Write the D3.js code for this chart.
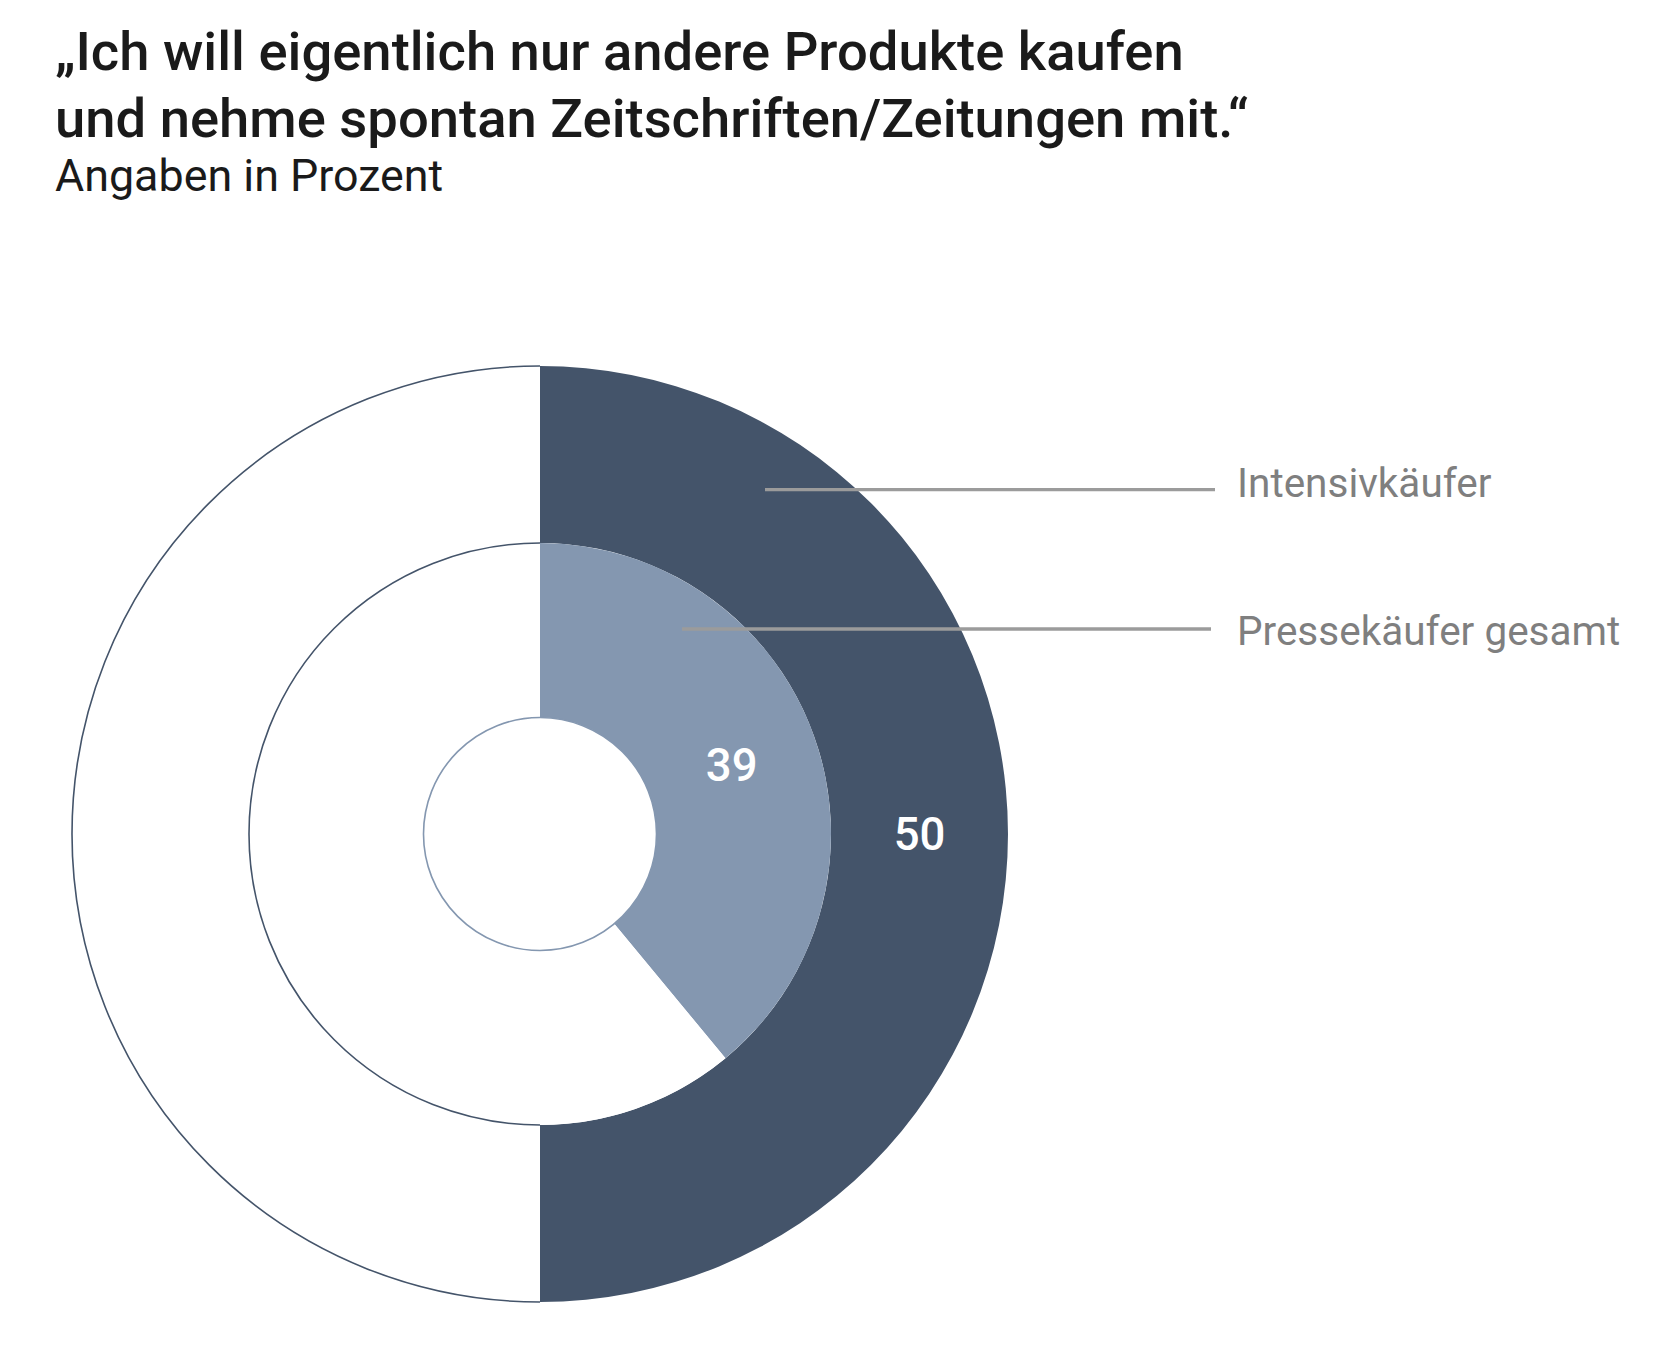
<!DOCTYPE html>
<html>
<head>
<meta charset="utf-8">
<script src="https://cdn.jsdelivr.net/npm/d3@7"></script>
<style>
  html, body { margin: 0; padding: 0; background: #ffffff; }
  svg { display: block; }
</style>
</head>
<body>
<svg id="chart" width="1676" height="1372"></svg>
<script>
// ---- data ----
const titleLines = ["\u201EIch will eigentlich nur andere Produkte kaufen", "und nehme spontan Zeitschriften/Zeitungen mit.\u201C"];
const subtitle = "Angaben in Prozent";
const seriesNames = ["Intensivk\u00e4ufer", "Pressek\u00e4ufer gesamt"];
const intensivValues = [50, 50];   // [Zustimmung, Rest]
const gesamtValues = [39, 61];     // [Zustimmung, Rest]

// ---- layout ----
const W = 1676, H = 1372;
const cx = 540, cy = 834;
const rOuter = 468, rMid = 291, rInner = 116.5;
const darkColor = "#44546a", lightColor = "#8497b0";
const font = "Roboto, 'Noto Sans', sans-serif";

const svg = d3.select("#chart");

// titles
svg.append("g").selectAll("text").data(titleLines).join("text")
  .attr("x", 55).attr("y", (d, i) => 70 + i * 66.7)
  .attr("font-family", font).attr("font-weight", 500).attr("font-size", 54.4)
  .attr("fill", "#1a1a1a").text(d => d);
svg.append("text").attr("x", 55).attr("y", 190.7)
  .attr("font-family", font).attr("font-size", 44.8).attr("fill", "#1a1a1a").text(subtitle);

const pie = d3.pie().sort(null).value(d => d);
const g = svg.append("g").attr("transform", `translate(${cx},${cy})`);

const rings = [
  { name: seriesNames[0], values: intensivValues, inner: rMid, outer: rOuter, color: darkColor },
  { name: seriesNames[1], values: gesamtValues, inner: rInner, outer: rMid, color: lightColor }
];

rings.forEach(ring => {
  const arcs = pie(ring.values);
  const arc = d3.arc().innerRadius(ring.inner).outerRadius(ring.outer);
  g.append("g").selectAll("path").data(arcs).join("path")
    .attr("d", arc)
    .attr("fill", (d, i) => i === 0 ? ring.color : "#ffffff");
  ring.arcs = arcs; ring.arc = arc;
});

// outlines of the unfilled remainder
const rem0 = rings[0].arcs[1];
[rOuter, rMid].forEach(r => {
  g.append("path")
    .attr("d", d3.arc().innerRadius(r).outerRadius(r)({ startAngle: rem0.startAngle, endAngle: rem0.endAngle }))
    .attr("fill", "none").attr("stroke", darkColor).attr("stroke-width", 1.6);
});
g.append("circle").attr("r", rInner).attr("fill", "#ffffff")
  .attr("stroke", lightColor).attr("stroke-width", 1.6);

// value labels
rings.forEach(ring => {
  const d = ring.arcs[0];
  const c = ring.arc.centroid(d);
  g.append("text").attr("x", c[0]).attr("y", c[1])
    .attr("text-anchor", "middle").attr("dy", "0.355em")
    .attr("font-family", font).attr("font-weight", 500).attr("font-size", 45.5)
    .attr("fill", "#ffffff").text(d.value);
});

// series leader lines + names
const leaders = [
  { name: seriesNames[0], x1: 765, y: 489.6, x2: 1215, ty: 497 },
  { name: seriesNames[1], x1: 682, y: 629, x2: 1211, ty: 645 }
];
leaders.forEach(l => {
  svg.append("line").attr("x1", l.x1).attr("x2", l.x2).attr("y1", l.y).attr("y2", l.y)
    .attr("stroke", "#9b9b9b").attr("stroke-width", 3.3);
  svg.append("text").attr("x", 1237).attr("y", l.ty)
    .attr("font-family", font).attr("font-size", 40.5).attr("fill", "#7f7f7f").text(l.name);
});
</script>
</body>
</html>
